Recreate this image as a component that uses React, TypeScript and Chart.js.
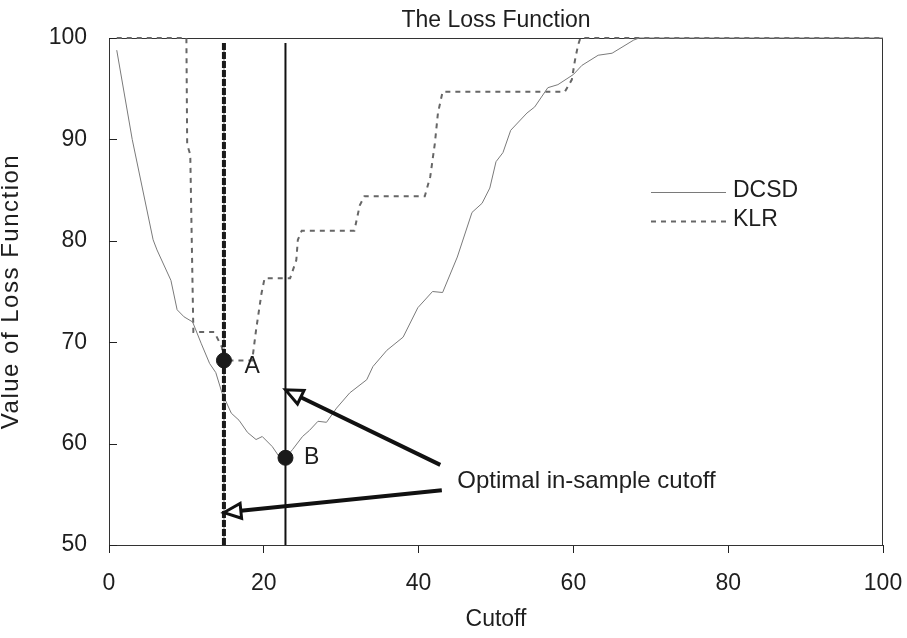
import React, { useEffect, useRef } from 'react';
import { Chart, registerables } from 'chart.js';
Chart.register(...registerables);

// ---- data ----
const chartTitle = 'The Loss Function';
const xTitle = 'Cutoff';
const yTitle = 'Value of Loss Function';

const dcsdX = [1, 3, 5.7, 6.2, 8.0, 8.8, 9.7, 10.8, 11.9, 13, 13.8, 14.6, 15.8, 16.8, 17.9, 19, 19.8, 21.1, 22, 22.8, 23.7, 25, 25.9, 27, 28.1, 29.4, 31.1, 33.3, 34.1, 35.9, 38, 39.9, 41.8, 43.1, 45, 46.9, 48.2, 49.2, 50, 50.9, 51.9, 54, 55, 56.7, 58, 60, 61.1, 63.2, 65, 67.8, 68.5, 100];
const dcsdY = [98.8, 90, 80.1, 79.1, 76.1, 73.2, 72.5, 72.0, 69.9, 67.9, 67.0, 65, 63, 62.3, 61.1, 60.4, 60.7, 59.7, 58.7, 58.6, 59.4, 60.7, 61.3, 62.2, 62.1, 63.5, 65, 66.3, 67.6, 69.2, 70.5, 73.4, 75, 74.9, 78.4, 82.8, 83.7, 85.2, 87.8, 88.7, 90.9, 92.6, 93.2, 95.1, 95.4, 96.4, 97.3, 98.3, 98.5, 99.8, 100, 100];

const klrX = [1, 10, 10.1, 10.5, 10.9, 13.6, 14.6, 14.85, 18.5, 19, 19.7, 20.1, 23.4, 24.2, 24.4, 24.9, 31.7, 32.4, 33, 40.8, 41.5, 42.1, 42.5, 43.1, 58.9, 59.8, 60.2, 60.6, 60.9, 100];
const klrY = [100, 100, 89.5, 88.5, 71, 71, 69.5, 68.2, 68.2, 71.2, 74.8, 76.3, 76.3, 78.1, 80.1, 81, 81, 83.5, 84.4, 84.4, 86.3, 89.6, 92.6, 94.7, 94.7, 95.9, 97.8, 99.3, 100, 100];

const cutoffKLR = 14.85;
const cutoffDCSD = 22.8;
const cutoffTop = 99.5;
const cutoffBottom = 50;

const pointNames = ['A', 'B'];
const pointX = [14.85, 22.8];
const pointY = [68.2, 58.6];
const pointLabelX = [18.5, 26.2];
const pointLabelY = [67.6, 58.6];

const noteText = 'Optimal in-sample cutoff';
const noteX = 45;
const noteY = 56.3;
const arrowFromX = [42.8, 43.0];
const arrowFromY = [57.9, 55.4];
const arrowToX = [22.8, 14.85];
const arrowToY = [65.3, 53.2];

const legendNames = ['DCSD', 'KLR'];

const xMin = 0, xMax = 100, xStep = 20;
const yMin = 50, yMax = 100, yStep = 10;

const FONT = "'Liberation Sans', Arial, Helvetica, sans-serif";
const TEXT = '#1e1e1e';

const toPts = (xs: number[], ys: number[]) => xs.map((x, i) => ({ x, y: ys[i] }));

const decorPlugin = {
  id: 'decor',
  beforeDatasetsDraw(chart: any) {
    const { ctx, chartArea: a } = chart;
    const ys = chart.scales.y;
    ctx.save();
    ctx.strokeStyle = '#333';
    ctx.lineWidth = 1;
    ctx.strokeRect(a.left + 0.5, a.top + 0.5, a.right - a.left - 1, a.bottom - a.top);
    // inside y ticks
    ctx.strokeStyle = '#222';
    for (let v = yMin; v <= yMax; v += yStep) {
      const py = Math.round(ys.getPixelForValue(v)) + 0.5;
      ctx.beginPath();
      ctx.moveTo(a.left, py);
      ctx.lineTo(a.left + 8, py);
      ctx.stroke();
    }
    ctx.restore();
  },
  afterDatasetsDraw(chart: any) {
    const { ctx, chartArea: a } = chart;
    const xs = chart.scales.x;
    const ys = chart.scales.y;
    ctx.save();
    // title
    ctx.fillStyle = TEXT;
    ctx.font = `23px ${FONT}`;
    ctx.textAlign = 'center';
    ctx.textBaseline = 'middle';
    ctx.fillText(chartTitle, (a.left + a.right) / 2, 21);

    // y title (slightly tracked)
    ctx.save();
    ctx.translate(11, (a.top + a.bottom) / 2);
    ctx.rotate(-Math.PI / 2);
    ctx.font = `24px ${FONT}`;
    (ctx as any).letterSpacing = '1.5px';
    ctx.textAlign = 'center';
    ctx.textBaseline = 'middle';
    ctx.fillText(yTitle, 0, 0);
    ctx.restore();

    // point labels
    ctx.font = `23px ${FONT}`;
    ctx.textAlign = 'center';
    pointNames.forEach((n, i) => {
      ctx.fillText(n, xs.getPixelForValue(pointLabelX[i]), ys.getPixelForValue(pointLabelY[i]));
    });

    // note text
    ctx.font = `24px ${FONT}`;
    ctx.textAlign = 'left';
    ctx.fillText(noteText, xs.getPixelForValue(noteX), ys.getPixelForValue(noteY));

    // arrows
    for (let i = 0; i < arrowFromX.length; i++) {
      const x0 = xs.getPixelForValue(arrowFromX[i]);
      const y0 = ys.getPixelForValue(arrowFromY[i]);
      const x1 = xs.getPixelForValue(arrowToX[i]);
      const y1 = ys.getPixelForValue(arrowToY[i]);
      const ang = Math.atan2(y1 - y0, x1 - x0);
      const len = 17, hw = 7.5;
      const bx = x1 - len * Math.cos(ang);
      const by = y1 - len * Math.sin(ang);
      ctx.strokeStyle = '#111';
      ctx.lineWidth = 4;
      ctx.lineCap = 'butt';
      ctx.beginPath();
      ctx.moveTo(x0, y0);
      ctx.lineTo(bx, by);
      ctx.stroke();
      ctx.beginPath();
      ctx.moveTo(x1, y1);
      ctx.lineTo(bx + hw * Math.sin(ang), by - hw * Math.cos(ang));
      ctx.lineTo(bx - hw * Math.sin(ang), by + hw * Math.cos(ang));
      ctx.closePath();
      ctx.fillStyle = '#fff';
      ctx.fill();
      ctx.lineWidth = 3;
      ctx.lineJoin = 'miter';
      ctx.stroke();
    }

    // legend
    ctx.font = `23px ${FONT}`;
    const lx0 = 651, lx1 = 726, ly = [192, 221];
    const dsets = chart.data.datasets;
    legendNames.forEach((n, i) => {
      const ds = dsets.find((d: any) => d.label === n);
      ctx.strokeStyle = ds.borderColor;
      ctx.lineWidth = ds.borderWidth;
      ctx.setLineDash(ds.borderDash || []);
      ctx.beginPath();
      ctx.moveTo(lx0, ly[i] + 0.5);
      ctx.lineTo(lx1, ly[i] + 0.5);
      ctx.stroke();
      ctx.setLineDash([]);
      ctx.fillStyle = TEXT;
      ctx.textAlign = 'left';
      ctx.textBaseline = 'middle';
      ctx.fillText(n, 733, ly[i] - 1);
    });
    ctx.restore();
  },
};

export default function App() {
  const ref = useRef<HTMLCanvasElement | null>(null);
  useEffect(() => {
    if (!ref.current) return;
    const chart = new Chart(ref.current, {
      type: 'line',
      data: {
        datasets: [
          {
            label: 'points',
            data: toPts(pointX, pointY),
            showLine: false,
            pointRadius: 7.5,
            pointBackgroundColor: '#1a1a1a',
            pointBorderColor: '#1a1a1a',
            borderColor: '#1a1a1a',
          },
          {
            label: 'cutDCSD',
            data: [{ x: cutoffDCSD, y: cutoffTop }, { x: cutoffDCSD, y: cutoffBottom }],
            borderColor: '#111',
            borderWidth: 2,
            pointRadius: 0,
          },
          {
            label: 'cutKLR',
            data: [{ x: cutoffKLR, y: cutoffTop }, { x: cutoffKLR, y: cutoffBottom }],
            borderColor: '#1a1a1a',
            borderWidth: 4,
            borderDash: [7, 2],
            pointRadius: 0,
          },
          {
            label: 'cutKLRbase',
            data: [{ x: cutoffKLR, y: cutoffTop }, { x: cutoffKLR, y: cutoffBottom }],
            borderColor: '#bbb',
            borderWidth: 2,
            pointRadius: 0,
          },
          {
            label: 'DCSD',
            data: toPts(dcsdX, dcsdY),
            borderColor: '#7a7a7a',
            borderWidth: 1,
            pointRadius: 0,
            tension: 0,
            clip: 4,
          },
          {
            label: 'KLR',
            data: toPts(klrX, klrY),
            borderColor: '#666',
            borderWidth: 2,
            borderDash: [5, 5],
            pointRadius: 0,
            tension: 0,
            clip: 4,
          },
        ],
      },
      options: {
        animation: false,
        responsive: false,
        events: [],
        layout: { padding: { top: 38, right: 24, left: 0, bottom: 0 } },
        plugins: {
          legend: { display: false },
          title: { display: false },
          tooltip: { enabled: false },
        },
        scales: {
          x: {
            type: 'linear',
            min: xMin,
            max: xMax,
            afterFit: (s: any) => { s.height = 93; s.paddingLeft = 0; s.paddingRight = 0; },
            ticks: {
              stepSize: xStep,
              color: TEXT,
              font: { family: FONT, size: 23 },
              padding: 17,
              maxRotation: 0,
            },
            grid: { drawOnChartArea: false, drawTicks: true, tickLength: 8, color: '#222' },
            border: { display: true, color: '#222', width: 1 },
            title: {
              display: true,
              text: xTitle,
              color: TEXT,
              font: { family: FONT, size: 23, lineHeight: 1 },
              padding: { top: 0, bottom: 7 },
            },
          },
          y: {
            type: 'linear',
            min: yMin,
            max: yMax,
            afterFit: (s: any) => { s.width = 109; s.paddingTop = 0; s.paddingBottom = 0; },
            ticks: {
              stepSize: yStep,
              color: TEXT,
              font: { family: FONT, size: 23 },
              padding: 22,
            },
            grid: { drawOnChartArea: false, drawTicks: false },
            border: { display: true, color: '#222', width: 1 },
            title: { display: false },
          },
        },
      },
      plugins: [decorPlugin],
    } as any);
    return () => chart.destroy();
  }, []);
  return (
    <div style={{ position: 'absolute', left: 0, top: 0, width: 907, height: 638, background: '#fff' }}>
      <canvas ref={ref} width={907} height={638} />
    </div>
  );
}
